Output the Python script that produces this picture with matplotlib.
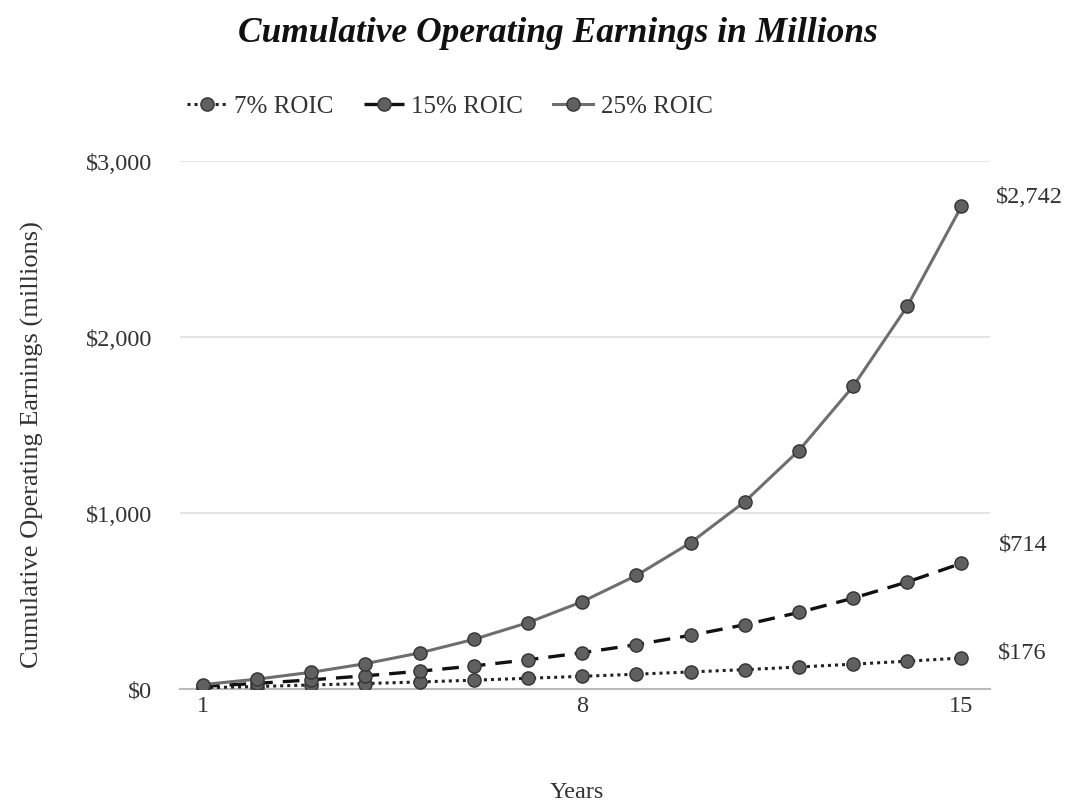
import matplotlib
matplotlib.use("Agg")
import matplotlib.pyplot as plt
from matplotlib.ticker import FuncFormatter

# Datos (millones)
years = list(range(1, 16))
roic_7 = [7, 14, 23, 31, 40, 50, 61, 72, 84, 97, 110, 125, 141, 158, 176]
roic_15 = [15, 32, 52, 75, 101, 131, 166, 206, 252, 305, 365, 435, 516, 608, 714]
roic_25 = [25, 56, 95, 144, 205, 282, 377, 496, 645, 831, 1064, 1355, 1719, 2174, 2742]
end_labels = ["$176", "$714", "$2,742"]
x_ticks = [1, 8, 15]
y_ticks = [0, 1000, 2000, 3000]

plt.rcParams["font.family"] = ["Liberation Serif", "DejaVu Serif"]

fig = plt.figure(figsize=(10.71, 8.04), dpi=100)
ax = fig.add_axes([0.168, 0.1418, 0.756, 0.6567])

marker_kw = dict(marker="o", markersize=9.5, markerfacecolor="#606060",
                 markeredgecolor="#333333", markeredgewidth=1.0)

ax.plot(years, roic_7, linestyle=(0, (1, 1.3)), color="#222222", linewidth=2.2,
        label="7% ROIC", zorder=3, **marker_kw)
ax.plot(years, roic_15, linestyle=(0, (5, 3)), color="#111111", linewidth=2.4,
        label="15% ROIC", zorder=3, **marker_kw)
ax.plot(years, roic_25, linestyle="-", color="#6e6e6e", linewidth=2.2,
        label="25% ROIC", zorder=4, **marker_kw)

# Etiquetas finales
offsets = [(26, 4), (27, 14), (25, 7)]
for serie, txt, off in zip([roic_7, roic_15, roic_25], end_labels, offsets):
    ax.annotate(txt, xy=(years[-1], serie[-1]), xytext=off,
                textcoords="offset points", fontsize=17.5, color="#333333",
                ha="left", va="center")

ax.set_xlim(0.576, 15.52)
ax.set_ylim(0, 3000)
ax.set_xticks(x_ticks)
ax.set_yticks(y_ticks)
ax.yaxis.set_major_formatter(FuncFormatter(lambda v, p: "${:,.0f}".format(v)))
ax.tick_params(axis="both", length=0, labelsize=17.5, labelcolor="#333333")
ax.tick_params(axis="y", pad=20)
ax.tick_params(axis="x", pad=4)

for s in ["top", "right", "left"]:
    ax.spines[s].set_visible(False)
ax.spines["bottom"].set_color("#bbbbbb")
ax.spines["bottom"].set_linewidth(1.5)
ax.grid(axis="y", color="#e2e2e2", linewidth=1.3)
ax.set_axisbelow(True)

ax.set_ylabel("Cumulative Operating Earnings (millions)", fontsize=19,
              color="#333333")
ax.yaxis.set_label_coords(-0.168, 0.464)
ax.set_xlabel("Years", fontsize=17.5, color="#333333")
ax.xaxis.set_label_coords(0.49, -0.175)

fig.text(0.521, 0.958, "Cumulative Operating Earnings in Millions",
         fontsize=25.5, fontweight="bold", fontstyle="italic", ha="center",
         va="center", color="#111111")

leg = fig.legend(*ax.get_legend_handles_labels(), loc="center left",
                 bbox_to_anchor=(187 / 1071, 1 - 107 / 804), ncol=3,
                 frameon=False, fontsize=18, handlelength=1.6,
                 handletextpad=0.3, columnspacing=1.2, borderpad=0,
                 borderaxespad=0)
for t in leg.get_texts():
    t.set_color("#333333")

fig.savefig("out.png", dpi=100)
